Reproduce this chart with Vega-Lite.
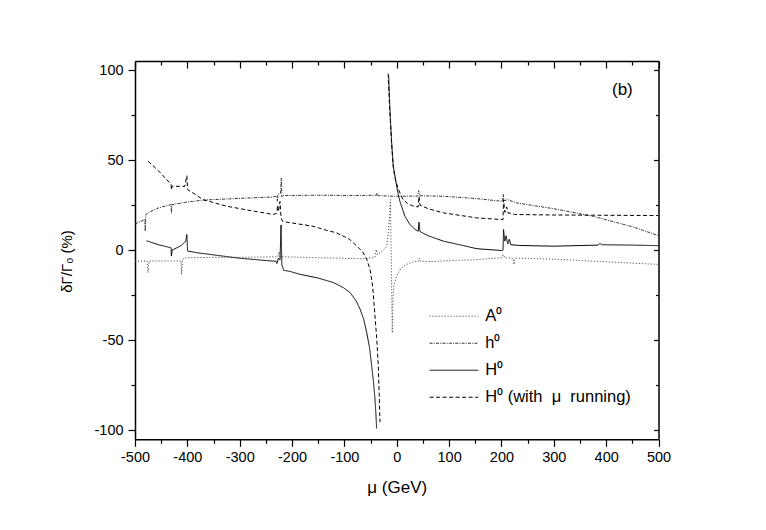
{
  "$schema": "https://vega.github.io/schema/vega-lite/v6.json",
  "width": 523.5,
  "height": 378.3,
  "autosize": "none",
  "padding": {"left": 135, "top": 61, "right": 107, "bottom": 91},
  "background": "white",
  "datasets": {
    "curves": [
      {"series": "A⁰", "branch": 1, "mu": -500, "d": -6.1},
      {"series": "A⁰", "branch": 1, "mu": -477, "d": -6},
      {"series": "A⁰", "branch": 1, "mu": -475, "d": -12.5},
      {"series": "A⁰", "branch": 1, "mu": -473, "d": -6},
      {"series": "A⁰", "branch": 1, "mu": -440, "d": -6},
      {"series": "A⁰", "branch": 1, "mu": -412, "d": -6},
      {"series": "A⁰", "branch": 1, "mu": -411, "d": -13.4},
      {"series": "A⁰", "branch": 1, "mu": -409, "d": -5},
      {"series": "A⁰", "branch": 1, "mu": -401, "d": -4.2},
      {"series": "A⁰", "branch": 1, "mu": -350, "d": -4},
      {"series": "A⁰", "branch": 1, "mu": -300, "d": -4},
      {"series": "A⁰", "branch": 1, "mu": -236, "d": -3.7},
      {"series": "A⁰", "branch": 1, "mu": -227, "d": -3.7},
      {"series": "A⁰", "branch": 1, "mu": -225, "d": -1},
      {"series": "A⁰", "branch": 1, "mu": -223, "d": -3.8},
      {"series": "A⁰", "branch": 1, "mu": -215, "d": -3.7},
      {"series": "A⁰", "branch": 1, "mu": -150, "d": -4.2},
      {"series": "A⁰", "branch": 1, "mu": -100, "d": -4.5},
      {"series": "A⁰", "branch": 1, "mu": -64, "d": -4.8},
      {"series": "A⁰", "branch": 1, "mu": -42, "d": -4},
      {"series": "A⁰", "branch": 1, "mu": -39, "d": 0.4},
      {"series": "A⁰", "branch": 1, "mu": -37, "d": -2.5},
      {"series": "A⁰", "branch": 1, "mu": -30, "d": -1},
      {"series": "A⁰", "branch": 1, "mu": -22, "d": 1},
      {"series": "A⁰", "branch": 1, "mu": -19, "d": 2.2},
      {"series": "A⁰", "branch": 1, "mu": -16, "d": 10},
      {"series": "A⁰", "branch": 1, "mu": -13.5, "d": 20},
      {"series": "A⁰", "branch": 1, "mu": -12, "d": 28},
      {"series": "A⁰", "branch": 1, "mu": -8.5, "d": -46},
      {"series": "A⁰", "branch": 1, "mu": -7, "d": -26},
      {"series": "A⁰", "branch": 1, "mu": -5, "d": -19},
      {"series": "A⁰", "branch": 1, "mu": -2, "d": -16},
      {"series": "A⁰", "branch": 1, "mu": 0, "d": -14.4},
      {"series": "A⁰", "branch": 1, "mu": 8, "d": -10},
      {"series": "A⁰", "branch": 1, "mu": 19, "d": -7.9},
      {"series": "A⁰", "branch": 1, "mu": 30, "d": -6.6},
      {"series": "A⁰", "branch": 1, "mu": 42, "d": -6},
      {"series": "A⁰", "branch": 1, "mu": 43, "d": -4.5},
      {"series": "A⁰", "branch": 1, "mu": 44, "d": -6.1},
      {"series": "A⁰", "branch": 1, "mu": 63, "d": -6.4},
      {"series": "A⁰", "branch": 1, "mu": 100, "d": -5.8},
      {"series": "A⁰", "branch": 1, "mu": 150, "d": -5.3},
      {"series": "A⁰", "branch": 1, "mu": 200, "d": -4.2},
      {"series": "A⁰", "branch": 1, "mu": 204, "d": -2.5},
      {"series": "A⁰", "branch": 1, "mu": 206, "d": -4.2},
      {"series": "A⁰", "branch": 1, "mu": 215, "d": -4.3},
      {"series": "A⁰", "branch": 1, "mu": 222, "d": -4.5},
      {"series": "A⁰", "branch": 1, "mu": 224, "d": -8},
      {"series": "A⁰", "branch": 1, "mu": 226, "d": -4.4},
      {"series": "A⁰", "branch": 1, "mu": 300, "d": -5},
      {"series": "A⁰", "branch": 1, "mu": 400, "d": -6.5},
      {"series": "A⁰", "branch": 1, "mu": 500, "d": -7.9},

      {"series": "h⁰", "branch": 1, "mu": -500, "d": 14.5},
      {"series": "h⁰", "branch": 1, "mu": -490, "d": 15.8},
      {"series": "h⁰", "branch": 1, "mu": -481, "d": 17},
      {"series": "h⁰", "branch": 1, "mu": -480.5, "d": 10.5},
      {"series": "h⁰", "branch": 1, "mu": -479.5, "d": 19.5},
      {"series": "h⁰", "branch": 1, "mu": -476, "d": 20.7},
      {"series": "h⁰", "branch": 1, "mu": -455, "d": 23.5},
      {"series": "h⁰", "branch": 1, "mu": -431, "d": 25.3},
      {"series": "h⁰", "branch": 1, "mu": -430.5, "d": 20.5},
      {"series": "h⁰", "branch": 1, "mu": -429.5, "d": 25.2},
      {"series": "h⁰", "branch": 1, "mu": -405, "d": 26.5},
      {"series": "h⁰", "branch": 1, "mu": -370, "d": 27.8},
      {"series": "h⁰", "branch": 1, "mu": -325, "d": 28.4},
      {"series": "h⁰", "branch": 1, "mu": -280, "d": 29},
      {"series": "h⁰", "branch": 1, "mu": -236, "d": 29.5},
      {"series": "h⁰", "branch": 1, "mu": -229, "d": 30},
      {"series": "h⁰", "branch": 1, "mu": -228, "d": 27},
      {"series": "h⁰", "branch": 1, "mu": -227, "d": 31},
      {"series": "h⁰", "branch": 1, "mu": -222, "d": 31.5},
      {"series": "h⁰", "branch": 1, "mu": -220.5, "d": 40},
      {"series": "h⁰", "branch": 1, "mu": -219.5, "d": 29.5},
      {"series": "h⁰", "branch": 1, "mu": -217, "d": 30.3},
      {"series": "h⁰", "branch": 1, "mu": -150, "d": 30.5},
      {"series": "h⁰", "branch": 1, "mu": -70, "d": 30.3},
      {"series": "h⁰", "branch": 1, "mu": -39, "d": 30.5},
      {"series": "h⁰", "branch": 1, "mu": -38, "d": 31.8},
      {"series": "h⁰", "branch": 1, "mu": -37, "d": 30.3},
      {"series": "h⁰", "branch": 1, "mu": -7, "d": 29.9},
      {"series": "h⁰", "branch": 1, "mu": 40, "d": 30},
      {"series": "h⁰", "branch": 1, "mu": 42, "d": 33},
      {"series": "h⁰", "branch": 1, "mu": 44, "d": 30.2},
      {"series": "h⁰", "branch": 1, "mu": 89, "d": 29.9},
      {"series": "h⁰", "branch": 1, "mu": 150, "d": 28.7},
      {"series": "h⁰", "branch": 1, "mu": 202, "d": 27.1},
      {"series": "h⁰", "branch": 1, "mu": 203.5, "d": 31},
      {"series": "h⁰", "branch": 1, "mu": 205, "d": 27.5},
      {"series": "h⁰", "branch": 1, "mu": 212, "d": 28},
      {"series": "h⁰", "branch": 1, "mu": 229, "d": 26.2},
      {"series": "h⁰", "branch": 1, "mu": 300, "d": 23},
      {"series": "h⁰", "branch": 1, "mu": 375, "d": 18.8},
      {"series": "h⁰", "branch": 1, "mu": 450, "d": 13},
      {"series": "h⁰", "branch": 1, "mu": 500, "d": 8.1},

      {"series": "H⁰", "branch": 1, "mu": -478, "d": 5.2},
      {"series": "H⁰", "branch": 1, "mu": -455, "d": 3},
      {"series": "H⁰", "branch": 1, "mu": -431, "d": 1.3},
      {"series": "H⁰", "branch": 1, "mu": -430.5, "d": -3.3},
      {"series": "H⁰", "branch": 1, "mu": -429, "d": 0},
      {"series": "H⁰", "branch": 1, "mu": -412, "d": 2.5},
      {"series": "H⁰", "branch": 1, "mu": -403, "d": 5},
      {"series": "H⁰", "branch": 1, "mu": -401, "d": 8.7},
      {"series": "H⁰", "branch": 1, "mu": -399.5, "d": -0.5},
      {"series": "H⁰", "branch": 1, "mu": -380, "d": -1.5},
      {"series": "H⁰", "branch": 1, "mu": -340, "d": -3},
      {"series": "H⁰", "branch": 1, "mu": -300, "d": -4.5},
      {"series": "H⁰", "branch": 1, "mu": -260, "d": -5.5},
      {"series": "H⁰", "branch": 1, "mu": -236, "d": -6.1},
      {"series": "H⁰", "branch": 1, "mu": -231, "d": -6},
      {"series": "H⁰", "branch": 1, "mu": -229, "d": -7.4},
      {"series": "H⁰", "branch": 1, "mu": -226, "d": -4.5},
      {"series": "H⁰", "branch": 1, "mu": -223, "d": -5.5},
      {"series": "H⁰", "branch": 1, "mu": -221, "d": 14},
      {"series": "H⁰", "branch": 1, "mu": -219.5, "d": -8},
      {"series": "H⁰", "branch": 1, "mu": -216, "d": -11.2},
      {"series": "H⁰", "branch": 1, "mu": -204, "d": -11.8},
      {"series": "H⁰", "branch": 1, "mu": -185, "d": -13.4},
      {"series": "H⁰", "branch": 1, "mu": -150, "d": -15.5},
      {"series": "H⁰", "branch": 1, "mu": -121, "d": -18},
      {"series": "H⁰", "branch": 1, "mu": -102, "d": -20.8},
      {"series": "H⁰", "branch": 1, "mu": -89, "d": -23.6},
      {"series": "H⁰", "branch": 1, "mu": -78, "d": -28},
      {"series": "H⁰", "branch": 1, "mu": -70, "d": -32.8},
      {"series": "H⁰", "branch": 1, "mu": -63, "d": -38.5},
      {"series": "H⁰", "branch": 1, "mu": -57.5, "d": -45.7},
      {"series": "H⁰", "branch": 1, "mu": -52, "d": -54},
      {"series": "H⁰", "branch": 1, "mu": -48, "d": -64},
      {"series": "H⁰", "branch": 1, "mu": -44.5, "d": -73},
      {"series": "H⁰", "branch": 1, "mu": -41.6, "d": -82.6},
      {"series": "H⁰", "branch": 1, "mu": -40, "d": -90},
      {"series": "H⁰", "branch": 1, "mu": -38.5, "d": -99},
      {"series": "H⁰", "branch": 2, "mu": -15.5, "d": 97},
      {"series": "H⁰", "branch": 2, "mu": -13, "d": 78},
      {"series": "H⁰", "branch": 2, "mu": -9.7, "d": 59.4},
      {"series": "H⁰", "branch": 2, "mu": -6.7, "d": 47},
      {"series": "H⁰", "branch": 2, "mu": -3.4, "d": 41},
      {"series": "H⁰", "branch": 2, "mu": 0, "d": 35.4},
      {"series": "H⁰", "branch": 2, "mu": 2.9, "d": 31},
      {"series": "H⁰", "branch": 2, "mu": 6.1, "d": 27},
      {"series": "H⁰", "branch": 2, "mu": 12.4, "d": 21.5},
      {"series": "H⁰", "branch": 2, "mu": 15.7, "d": 18.8},
      {"series": "H⁰", "branch": 2, "mu": 25.2, "d": 14.2},
      {"series": "H⁰", "branch": 2, "mu": 35, "d": 11.5},
      {"series": "H⁰", "branch": 2, "mu": 41, "d": 10.5},
      {"series": "H⁰", "branch": 2, "mu": 42.5, "d": 15.5},
      {"series": "H⁰", "branch": 2, "mu": 44.5, "d": 10.3},
      {"series": "H⁰", "branch": 2, "mu": 60, "d": 8},
      {"series": "H⁰", "branch": 2, "mu": 89, "d": 5},
      {"series": "H⁰", "branch": 2, "mu": 120, "d": 3},
      {"series": "H⁰", "branch": 2, "mu": 153, "d": 0.8},
      {"series": "H⁰", "branch": 2, "mu": 200, "d": -0.2},
      {"series": "H⁰", "branch": 2, "mu": 203, "d": 0},
      {"series": "H⁰", "branch": 2, "mu": 204, "d": 11.5},
      {"series": "H⁰", "branch": 2, "mu": 206.5, "d": 5},
      {"series": "H⁰", "branch": 2, "mu": 209, "d": 8},
      {"series": "H⁰", "branch": 2, "mu": 212, "d": 3.5},
      {"series": "H⁰", "branch": 2, "mu": 215, "d": 6},
      {"series": "H⁰", "branch": 2, "mu": 218, "d": 3},
      {"series": "H⁰", "branch": 2, "mu": 235, "d": 2.6},
      {"series": "H⁰", "branch": 2, "mu": 300, "d": 2.2},
      {"series": "H⁰", "branch": 2, "mu": 385, "d": 2.8},
      {"series": "H⁰", "branch": 2, "mu": 388, "d": 3.8},
      {"series": "H⁰", "branch": 2, "mu": 391, "d": 3},
      {"series": "H⁰", "branch": 2, "mu": 450, "d": 2.8},
      {"series": "H⁰", "branch": 2, "mu": 500, "d": 2.5},

      {"series": "H⁰ (with  μ  running)", "branch": 1, "mu": -475, "d": 49.3},
      {"series": "H⁰ (with  μ  running)", "branch": 1, "mu": -455, "d": 44},
      {"series": "H⁰ (with  μ  running)", "branch": 1, "mu": -431, "d": 36.5},
      {"series": "H⁰ (with  μ  running)", "branch": 1, "mu": -430.5, "d": 33.5},
      {"series": "H⁰ (with  μ  running)", "branch": 1, "mu": -429, "d": 35.5},
      {"series": "H⁰ (with  μ  running)", "branch": 1, "mu": -405, "d": 35.4},
      {"series": "H⁰ (with  μ  running)", "branch": 1, "mu": -401, "d": 41.3},
      {"series": "H⁰ (with  μ  running)", "branch": 1, "mu": -399.5, "d": 33.6},
      {"series": "H⁰ (with  μ  running)", "branch": 1, "mu": -385, "d": 31},
      {"series": "H⁰ (with  μ  running)", "branch": 1, "mu": -370, "d": 28},
      {"series": "H⁰ (with  μ  running)", "branch": 1, "mu": -325, "d": 24.4},
      {"series": "H⁰ (with  μ  running)", "branch": 1, "mu": -280, "d": 22},
      {"series": "H⁰ (with  μ  running)", "branch": 1, "mu": -236, "d": 19.8},
      {"series": "H⁰ (with  μ  running)", "branch": 1, "mu": -229, "d": 20.5},
      {"series": "H⁰ (with  μ  running)", "branch": 1, "mu": -227.5, "d": 25},
      {"series": "H⁰ (with  μ  running)", "branch": 1, "mu": -226, "d": 21.5},
      {"series": "H⁰ (with  μ  running)", "branch": 1, "mu": -223, "d": 27},
      {"series": "H⁰ (with  μ  running)", "branch": 1, "mu": -221, "d": 18},
      {"series": "H⁰ (with  μ  running)", "branch": 1, "mu": -218, "d": 16},
      {"series": "H⁰ (with  μ  running)", "branch": 1, "mu": -210, "d": 15.5},
      {"series": "H⁰ (with  μ  running)", "branch": 1, "mu": -160, "d": 13.3},
      {"series": "H⁰ (with  μ  running)", "branch": 1, "mu": -134, "d": 11},
      {"series": "H⁰ (with  μ  running)", "branch": 1, "mu": -115, "d": 9.6},
      {"series": "H⁰ (with  μ  running)", "branch": 1, "mu": -100, "d": 7.5},
      {"series": "H⁰ (with  μ  running)", "branch": 1, "mu": -90, "d": 6},
      {"series": "H⁰ (with  μ  running)", "branch": 1, "mu": -77, "d": 2.5},
      {"series": "H⁰ (with  μ  running)", "branch": 1, "mu": -65, "d": -1},
      {"series": "H⁰ (with  μ  running)", "branch": 1, "mu": -57.5, "d": -5},
      {"series": "H⁰ (with  μ  running)", "branch": 1, "mu": -51, "d": -10.7},
      {"series": "H⁰ (with  μ  running)", "branch": 1, "mu": -46, "d": -20},
      {"series": "H⁰ (with  μ  running)", "branch": 1, "mu": -41.6, "d": -36.5},
      {"series": "H⁰ (with  μ  running)", "branch": 1, "mu": -38, "d": -50},
      {"series": "H⁰ (with  μ  running)", "branch": 1, "mu": -35.3, "d": -64},
      {"series": "H⁰ (with  μ  running)", "branch": 1, "mu": -33.5, "d": -80},
      {"series": "H⁰ (with  μ  running)", "branch": 1, "mu": -32, "d": -95.5},
      {"series": "H⁰ (with  μ  running)", "branch": 2, "mu": -16.5, "d": 98},
      {"series": "H⁰ (with  μ  running)", "branch": 2, "mu": -13.5, "d": 78},
      {"series": "H⁰ (with  μ  running)", "branch": 2, "mu": -10, "d": 60},
      {"series": "H⁰ (with  μ  running)", "branch": 2, "mu": -7, "d": 47},
      {"series": "H⁰ (with  μ  running)", "branch": 2, "mu": -4, "d": 41},
      {"series": "H⁰ (with  μ  running)", "branch": 2, "mu": -1, "d": 37.5},
      {"series": "H⁰ (with  μ  running)", "branch": 2, "mu": 3, "d": 34},
      {"series": "H⁰ (with  μ  running)", "branch": 2, "mu": 8, "d": 30.5},
      {"series": "H⁰ (with  μ  running)", "branch": 2, "mu": 12.4, "d": 28},
      {"series": "H⁰ (with  μ  running)", "branch": 2, "mu": 20, "d": 26},
      {"series": "H⁰ (with  μ  running)", "branch": 2, "mu": 31.5, "d": 24.4},
      {"series": "H⁰ (with  μ  running)", "branch": 2, "mu": 41, "d": 24},
      {"series": "H⁰ (with  μ  running)", "branch": 2, "mu": 42.5, "d": 29.9},
      {"series": "H⁰ (with  μ  running)", "branch": 2, "mu": 44.5, "d": 25},
      {"series": "H⁰ (with  μ  running)", "branch": 2, "mu": 60, "d": 23},
      {"series": "H⁰ (with  μ  running)", "branch": 2, "mu": 89, "d": 20.7},
      {"series": "H⁰ (with  μ  running)", "branch": 2, "mu": 153, "d": 17.9},
      {"series": "H⁰ (with  μ  running)", "branch": 2, "mu": 200, "d": 17},
      {"series": "H⁰ (with  μ  running)", "branch": 2, "mu": 203, "d": 17},
      {"series": "H⁰ (with  μ  running)", "branch": 2, "mu": 204, "d": 28},
      {"series": "H⁰ (with  μ  running)", "branch": 2, "mu": 206.5, "d": 21},
      {"series": "H⁰ (with  μ  running)", "branch": 2, "mu": 210, "d": 24},
      {"series": "H⁰ (with  μ  running)", "branch": 2, "mu": 213, "d": 20.5},
      {"series": "H⁰ (with  μ  running)", "branch": 2, "mu": 218, "d": 20.5},
      {"series": "H⁰ (with  μ  running)", "branch": 2, "mu": 225, "d": 19.8},
      {"series": "H⁰ (with  μ  running)", "branch": 2, "mu": 300, "d": 19.5},
      {"series": "H⁰ (with  μ  running)", "branch": 2, "mu": 375, "d": 19.4},
      {"series": "H⁰ (with  μ  running)", "branch": 2, "mu": 500, "d": 19.2}
    ]
  },
  "data": {"name": "curves"},
  "resolve": {"axis": {"x": "independent", "y": "independent"}},
  "layer": [
    {
      "mark": {"type": "line", "strokeWidth": 1, "clip": true},
      "encoding": {
        "x": {
          "field": "mu", "type": "quantitative",
          "scale": {"domain": [-500, 500], "nice": false, "zero": false},
          "axis": {"orient": "bottom", "title": "μ (GeV)", "values": [-500, -400, -300, -200, -100, 0, 100, 200, 300, 400, 500], "tickSize": 7, "labelPadding": 4, "labelFlush": false, "titlePadding": 16, "labelExpr": "replace(datum.label, '−', '-')"}
        },
        "y": {
          "field": "d", "type": "quantitative",
          "scale": {"domain": [-105, 105], "nice": false, "zero": false},
          "axis": {"orient": "left", "title": "δΓ/Γ₀ (%)", "values": [-100, -50, 0, 50, 100], "tickSize": 7, "labelPadding": 5, "labelFlush": false, "titlePadding": 19, "titleY": 200, "titleFontSize": 15, "labelExpr": "replace(datum.label, '−', '-')"}
        },
        "color": {
          "field": "series", "type": "nominal",
          "scale": {"domain": ["A⁰", "h⁰", "H⁰", "H⁰ (with  μ  running)"], "range": ["#333333", "#333333", "#000000", "#000000"]},
          "legend": {"orient": "none", "legendX": 310.7, "legendY": 247, "title": null, "labelExpr": "replace(datum.label, 'with  μ  running', 'with\u00a0\u00a0μ\u00a0\u00a0running')"}
        },
        "strokeDash": {
          "field": "series", "type": "nominal",
          "scale": {"domain": ["A⁰", "h⁰", "H⁰", "H⁰ (with  μ  running)"], "range": [[1, 2], [3, 1.2, 1, 1.2], [1, 0], [4, 2.5]]},
          "legend": {"orient": "none", "legendX": 310.7, "legendY": 247, "title": null, "labelExpr": "replace(datum.label, 'with  μ  running', 'with\u00a0\u00a0μ\u00a0\u00a0running')"}
        },
        "detail": {"field": "branch", "type": "nominal"}
      }
    },
    {
      "mark": {"type": "point", "opacity": 0},
      "encoding": {
        "x": {"field": "mu", "type": "quantitative", "axis": {"orient": "bottom", "title": null, "labels": false, "domain": false, "values": [-450, -350, -250, -150, -50, 50, 150, 250, 350, 450], "tickSize": 4}},
        "y": {"field": "d", "type": "quantitative", "axis": {"orient": "left", "title": null, "labels": false, "domain": false, "values": [-75, -25, 25, 75], "tickSize": 4}}
      }
    },
    {
      "mark": {"type": "point", "opacity": 0},
      "encoding": {
        "x": {"field": "mu", "type": "quantitative", "axis": {"orient": "top", "title": null, "labels": false, "values": [-500, -400, -300, -200, -100, 0, 100, 200, 300, 400, 500], "tickSize": -7}},
        "y": {"field": "d", "type": "quantitative", "axis": {"orient": "right", "title": null, "labels": false, "values": [-100, -50, 0, 50, 100], "tickSize": -5}}
      }
    },
    {
      "mark": {"type": "point", "opacity": 0},
      "encoding": {
        "x": {"field": "mu", "type": "quantitative", "axis": {"orient": "top", "title": null, "labels": false, "domain": false, "values": [-450, -350, -250, -150, -50, 50, 150, 250, 350, 450], "tickSize": -4}},
        "y": {"field": "d", "type": "quantitative", "axis": {"orient": "right", "title": null, "labels": false, "domain": false, "values": [-75, -25, 25, 75], "tickSize": -3}}
      }
    },
    {
      "data": {"values": [{"tag": "(b)"}]},
      "mark": {"type": "text", "fontSize": 17, "font": "Liberation Sans", "color": "black"},
      "encoding": {
        "text": {"field": "tag"},
        "x": {"datum": 431, "type": "quantitative", "axis": null},
        "y": {"datum": 89, "type": "quantitative", "axis": null}
      }
    }
  ],
  "config": {
    "view": {"stroke": null},
    "axis": {
      "grid": false,
      "domainColor": "black",
      "domainWidth": 1.5,
      "tickColor": "black",
      "tickWidth": 1.2,
      "labelFont": "Liberation Sans",
      "labelFontSize": 14.5,
      "labelColor": "black",
      "titleFont": "Liberation Sans",
      "titleFontSize": 17,
      "titleColor": "black",
      "titleFontWeight": "normal"
    },
    "legend": {
      "symbolType": "M-4,0H4",
      "symbolSize": 148,
      "symbolStrokeWidth": 1,
      "labelFont": "Liberation Sans",
      "labelFontSize": 16.5,
      "labelColor": "black",
      "labelOffset": 23,
      "rowPadding": 10,
      "padding": 0
    }
  }
}
